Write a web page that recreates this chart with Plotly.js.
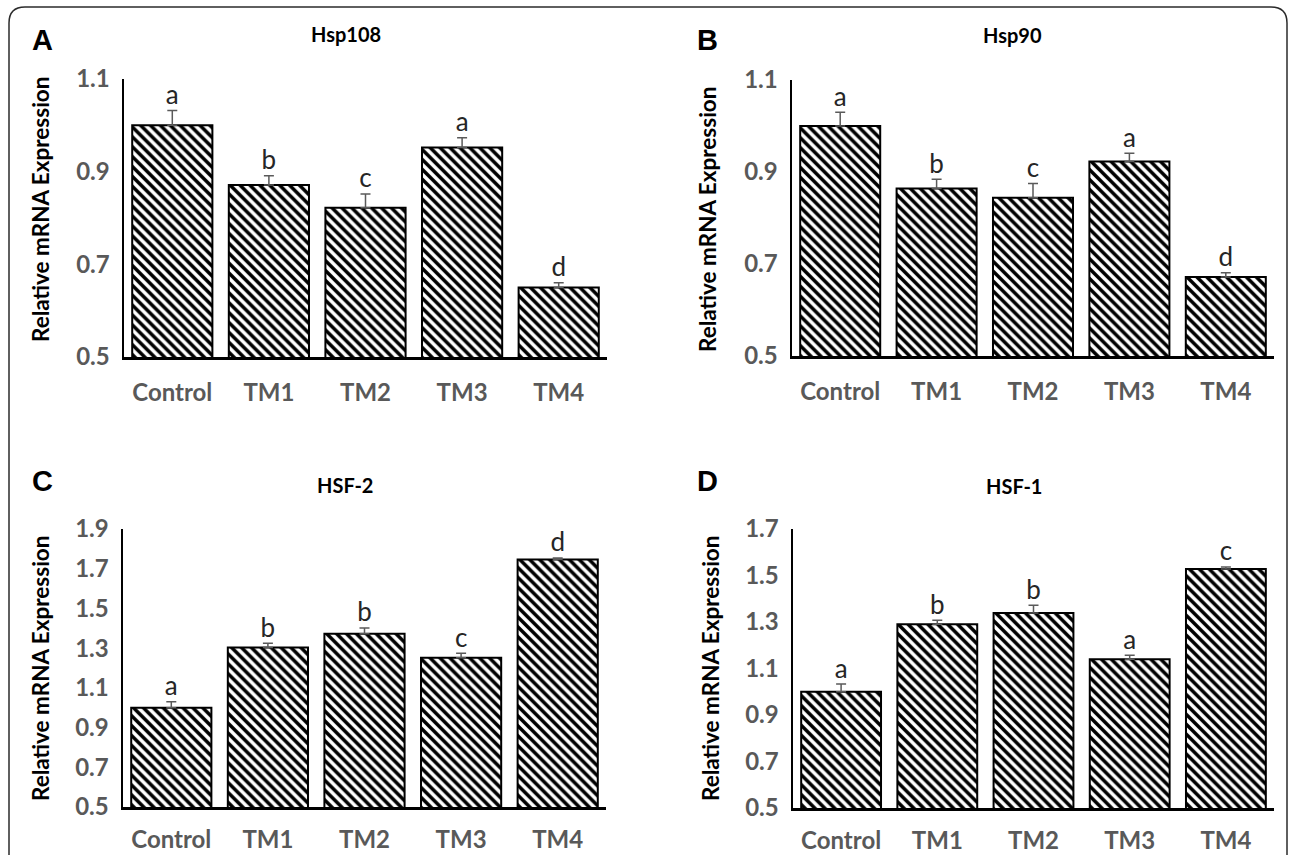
<!DOCTYPE html>
<html><head><meta charset="utf-8">
<script src="https://cdn.plot.ly/plotly-3.0.1.min.js"></script>
<style>html,body{margin:0;padding:0;background:#fff}#chart{width:1292px;height:855px}</style>
</head><body><div id="chart"></div>
<script>
const categories = ['Control', 'TM1', 'TM2', 'TM3', 'TM4'];

const hsp108Values  = [1.00, 0.871, 0.822, 0.952, 0.650];
const hsp108Errors  = [0.032, 0.020, 0.030, 0.021, 0.010];
const hsp108Letters = ['a', 'b', 'c', 'a', 'd'];

const hsp90Values  = [1.00, 0.864, 0.844, 0.923, 0.672];
const hsp90Errors  = [0.030, 0.020, 0.031, 0.018, 0.009];
const hsp90Letters = ['a', 'b', 'c', 'a', 'd'];

const hsf2Values  = [1.00, 1.303, 1.372, 1.251, 1.746];
const hsf2Errors  = [0.030, 0.022, 0.030, 0.023, 0.008];
const hsf2Letters = ['a', 'b', 'b', 'c', 'd'];

const hsf1Values  = [1.00, 1.290, 1.339, 1.140, 1.528];
const hsf1Errors  = [0.033, 0.017, 0.033, 0.017, 0.009];
const hsf1Letters = ['a', 'b', 'b', 'a', 'c'];

const panelLetters = ['A', 'B', 'C', 'D'];
const panelTitles = ['Hsp108', 'Hsp90', 'HSF-2', 'HSF-1'];
const yAxisTitle = 'Relative mRNA Expression';
const yRanges = [[0.5, 1.1], [0.5, 1.1], [0.5, 1.9], [0.5, 1.7]];

const W = 1292, H = 855;
const px = x => x / W;
const py = y => 1 - y / H;

// layout (pixel boxes)
const boxes = [
  {x: [124, 607], y: [79, 357], title: [346, 34], letter: [42, 40], ytitle: [40, 210]},
  {x: [792, 1274], y: [80, 356], title: [1013, 35], letter: [707, 40], ytitle: [707, 220]},
  {x: [123, 606], y: [529, 807], title: [345, 485], letter: [42, 481], ytitle: [40, 669]},
  {x: [793, 1274], y: [529, 808], title: [1014, 486], letter: [707, 481], ytitle: [710, 669]}
];

const series = [
  [hsp108Values, hsp108Errors, hsp108Letters],
  [hsp90Values, hsp90Errors, hsp90Letters],
  [hsf2Values, hsf2Errors, hsf2Letters],
  [hsf1Values, hsf1Errors, hsf1Letters]
];

const tickFont = {family: 'Lato, "Open Sans", sans-serif', size: 24, color: '#595959', weight: 'bold'};

const traces = [];
const layout = {
  width: W, height: H,
  margin: {l: 0, r: 0, t: 0, b: 0},
  paper_bgcolor: '#ffffff', plot_bgcolor: 'rgba(0,0,0,0)',
  showlegend: false,
  annotations: [],
  shapes: []
};

series.forEach((s, i) => {
  const [vals, errs, lets] = s;
  const n = i === 0 ? '' : String(i + 1);
  const xa = 'x' + n, ya = 'y' + n;
  traces.push({
    type: 'bar', x: categories, y: vals, xaxis: xa, yaxis: ya,
    base: 0, width: 0.83,
    marker: {
      color: '#ffffff',
      line: {color: '#000000', width: 2},
      pattern: {shape: '\\', fgcolor: '#000000', bgcolor: '#ffffff', size: 7, solidity: 0.5}
    },
    error_y: {type: 'data', symmetric: false, array: errs, arrayminus: errs.map(() => 0),
      color: '#5a5a5a', thickness: 1.5, width: 5},
    hoverinfo: 'skip'
  });
  traces.push({
    type: 'scatter', mode: 'text', x: categories, y: vals.map((v, k) => v + errs[k]),
    text: lets, textposition: 'top center', xaxis: xa, yaxis: ya,
    textfont: {family: 'Lato, "Open Sans", sans-serif', size: 26, color: '#262626'},
    cliponaxis: false, hoverinfo: 'skip'
  });
  const b = boxes[i];
  const r = yRanges[i];
  const ticks = [];
  for (let t = r[0]; t <= r[1] + 1e-9; t += 0.2) ticks.push(+t.toFixed(1));
  layout['xaxis' + n] = {
    domain: [px(b.x[0]), px(b.x[1])], anchor: ya, range: [-0.5, 4.5],
    showline: true, linecolor: '#000000', linewidth: 3, ticks: '', showgrid: false, zeroline: false,
    tickfont: tickFont, ticklabelstandoff: i < 2 ? 12 : 9, fixedrange: true
  };
  layout['yaxis' + n] = {
    domain: [py(b.y[1]), py(b.y[0])], anchor: xa, range: r,
    tickvals: ticks, ticktext: ticks.map(t => t.toFixed(1)),
    showline: true, linecolor: '#000000', linewidth: 2.5, ticks: '', showgrid: false, zeroline: false,
    tickfont: tickFont, ticklabelstandoff: 7, fixedrange: true
  };
  layout.annotations.push({
    xref: 'paper', yref: 'paper', x: px(b.title[0]), y: py(b.title[1]), xanchor: 'center', yanchor: 'middle',
    text: panelTitles[i], showarrow: false,
    font: {family: 'Lato, "Open Sans", sans-serif', size: 20, color: '#000000', weight: 'bold'}
  });
  layout.annotations.push({
    xref: 'paper', yref: 'paper', x: px(b.letter[0]), y: py(b.letter[1]), xanchor: 'center', yanchor: 'middle',
    text: panelLetters[i], showarrow: false,
    font: {family: '"Liberation Sans", Arial, sans-serif', size: 29, color: '#000000', weight: 'bold'}
  });
  layout.annotations.push({
    xref: 'paper', yref: 'paper', x: px(b.ytitle[0]), y: py(b.ytitle[1]), xanchor: 'center', yanchor: 'middle',
    text: yAxisTitle, showarrow: false, textangle: -90,
    font: {family: 'Lato, "Open Sans", sans-serif', size: 22.5, color: '#000000', weight: 'bold'}
  });
});

// rounded outer frame (bottom edge runs off the picture)
const L = 9, T = 7, R = 1287, B = 900, rad = 16;
layout.shapes.push({
  type: 'path', xref: 'paper', yref: 'paper', layer: 'below',
  path: `M ${px(L)} ${py(B)} L ${px(L)} ${py(T + rad)} Q ${px(L)} ${py(T)} ${px(L + rad)} ${py(T)} ` +
        `L ${px(R - rad)} ${py(T)} Q ${px(R)} ${py(T)} ${px(R)} ${py(T + rad)} L ${px(R)} ${py(B)}`,
  line: {color: '#2b2b2b', width: 1.5}
});

Plotly.newPlot('chart', traces, layout, {displayModeBar: false, staticPlot: true});
</script>
</body></html>
